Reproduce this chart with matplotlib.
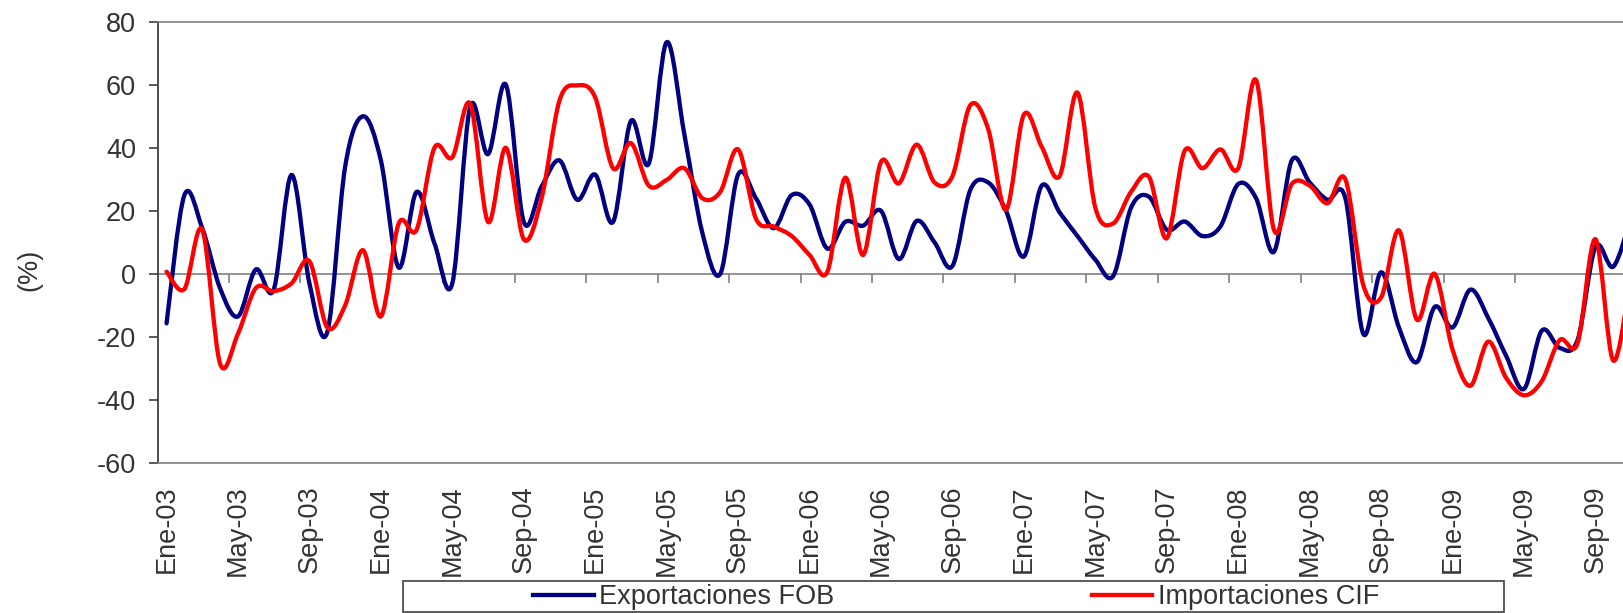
import matplotlib
matplotlib.use("Agg")
import matplotlib.pyplot as plt
from matplotlib.path import Path
from matplotlib.patches import PathPatch, Rectangle
from matplotlib.lines import Line2D
import numpy as np

plt.rcParams['font.family'] = ['Liberation Sans', 'DejaVu Sans']
plt.rcParams['axes.unicode_minus'] = False

# ---- data (monthly, Ene-03 onwards), % variation ----
exportaciones_fob = [
    -15.7, 25, 14.5, -4.6, -13.5, 1.4, -5, 31.4, -3, -18.5,
    34, 50, 36, 2, 26, 9.7, -3, 53, 38, 60,
    16.5, 27.7, 36, 23.5, 31.5, 16.5, 48.5, 35, 73.5, 44,
    13, 0, 31.5, 24, 14.5, 25, 22, 8, 16.5, 15.3,
    20, 4.7, 16.8, 10, 2.5, 26.6, 29, 20, 5.5, 28,
    19.5, 12, 4.5, -0.7, 21, 24.5, 14, 16.6, 12, 15,
    28.5, 24, 7, 36, 29, 23.5, 24, -19, 0.5, -17,
    -28, -10.5, -17, -5, -14, -26, -36.5, -18, -23.5, -21,
    8.5, 2.3, 18,
]
importaciones_cif = [
    0.7, -4.8, 14, -28.5, -19, -4.5, -5.5, -3, 4, -17,
    -10, 7.5, -13.5, 16, 14, 40, 37, 54, 16.5, 40,
    11, 24, 55, 59.8, 56, 33.5, 41.5, 28, 29.8, 33.5,
    24, 26, 39.5, 17.5, 15, 12, 6, 0.7, 30.5, 6,
    35.5, 28.7, 41, 29, 31, 53.5, 46, 20.3, 50.5, 40.3,
    31, 57.5, 21, 16, 26, 30.8, 11.3, 39, 33.5, 39.5,
    33.5, 61.5, 14, 28.5, 28, 22.4, 30, -3.5, -7.5, 13.8,
    -14.5, 0, -24, -35.5, -21.5, -33, -38.5, -34, -21, -22,
    11, -27.5, 0,
]
meses = ['Ene', 'May', 'Sep']
anios = ['03', '04', '05', '06', '07', '08', '09']
tick_labels = [f'{m}-{a}' for a in anios for m in meses]
series_names = ['Exportaciones FOB', 'Importaciones CIF']
colors = ['#000080', '#FF0000']

W, H = 1624, 613
fig = plt.figure(figsize=(W / 100, H / 100), dpi=100)
ax_l, ax_r, ax_t, ax_b = 157.6, 1624, 21.7, 463
ax = fig.add_axes([ax_l / W, 1 - ax_b / H, (ax_r - ax_l) / W, (ax_b - ax_t) / H])

text_color = '#333333'
FS = 19.5
LW = 3.1


def smooth_path(xs, ys):
    P = np.column_stack([xs, ys]).astype(float)
    n = len(P)
    verts = [tuple(P[0])]
    codes = [Path.MOVETO]
    for i in range(n - 1):
        p0 = P[i - 1] if i > 0 else P[i]
        p3 = P[i + 2] if i + 2 < n else P[i + 1]
        c1 = P[i] + (P[i + 1] - p0) / 6.0
        c2 = P[i + 1] - (p3 - P[i]) / 6.0
        verts += [tuple(c1), tuple(c2), tuple(P[i + 1])]
        codes += [Path.CURVE4] * 3
    return Path(verts, codes)


for vals, col in zip([exportaciones_fob, importaciones_cif], colors):
    x = np.arange(len(vals))
    patch = PathPatch(smooth_path(x, vals), facecolor='none', edgecolor=col,
                      lw=LW, zorder=3, capstyle='round', joinstyle='round')
    ax.add_patch(patch)

n_months = 82
ax.set_xlim(-0.5, 81.6)
ax.set_ylim(-60, 80)

# y axis
ax.set_yticks(np.arange(-60, 81, 20))
ax.tick_params(axis='y', direction='out', length=6.5, width=1.2, colors='#404040',
               labelcolor=text_color, labelsize=FS, pad=9)
# x labels (low position)
ax.set_xticks(np.arange(0, len(tick_labels) * 4, 4))
ax.set_xticklabels(tick_labels, rotation=90, fontsize=FS, color=text_color)
ax.tick_params(axis='x', length=0, pad=16)

ax.spines['right'].set_visible(False)
ax.spines['left'].set_color('#404040')
ax.spines['left'].set_linewidth(1.3)
ax.spines['top'].set_color('#808080')
ax.spines['top'].set_linewidth(1.2)
ax.spines['bottom'].set_color('#808080')
ax.spines['bottom'].set_linewidth(1.2)

# category axis crossing at zero with tick marks between categories
sec = ax.secondary_xaxis(60 / 140)
sec.set_xticks(np.arange(3.5, n_months, 4))
sec.tick_params(axis='x', direction='out', length=6.5, width=1.2, colors='#808080',
                labelbottom=False, labeltop=False)
sec.spines['bottom'].set_color('#808080')
sec.spines['bottom'].set_linewidth(1.2)
for s in ['top', 'left', 'right']:
    if s in sec.spines:
        sec.spines[s].set_visible(False)

fig.text(29 / W, 1 - 270 / H, '(%)', rotation=90, ha='center', va='center',
         fontsize=FS, color=text_color)

# legend
handles = [Line2D([], [], color=c, lw=LW) for c in colors]
fig.legend(handles, series_names, ncol=2, loc='center',
           bbox_to_anchor=(956 / W, 1 - 597 / H), frameon=False, fontsize=FS,
           handlelength=2.25, handletextpad=0.2, columnspacing=9.5,
           labelcolor=text_color, borderpad=0, borderaxespad=0)
fig.patches.append(Rectangle((403 / W, 1 - 612 / H), 1101 / W, 31 / H,
                             transform=fig.transFigure, fill=False,
                             edgecolor='#404040', lw=1.2))

fig.savefig('out.png', dpi=100)
